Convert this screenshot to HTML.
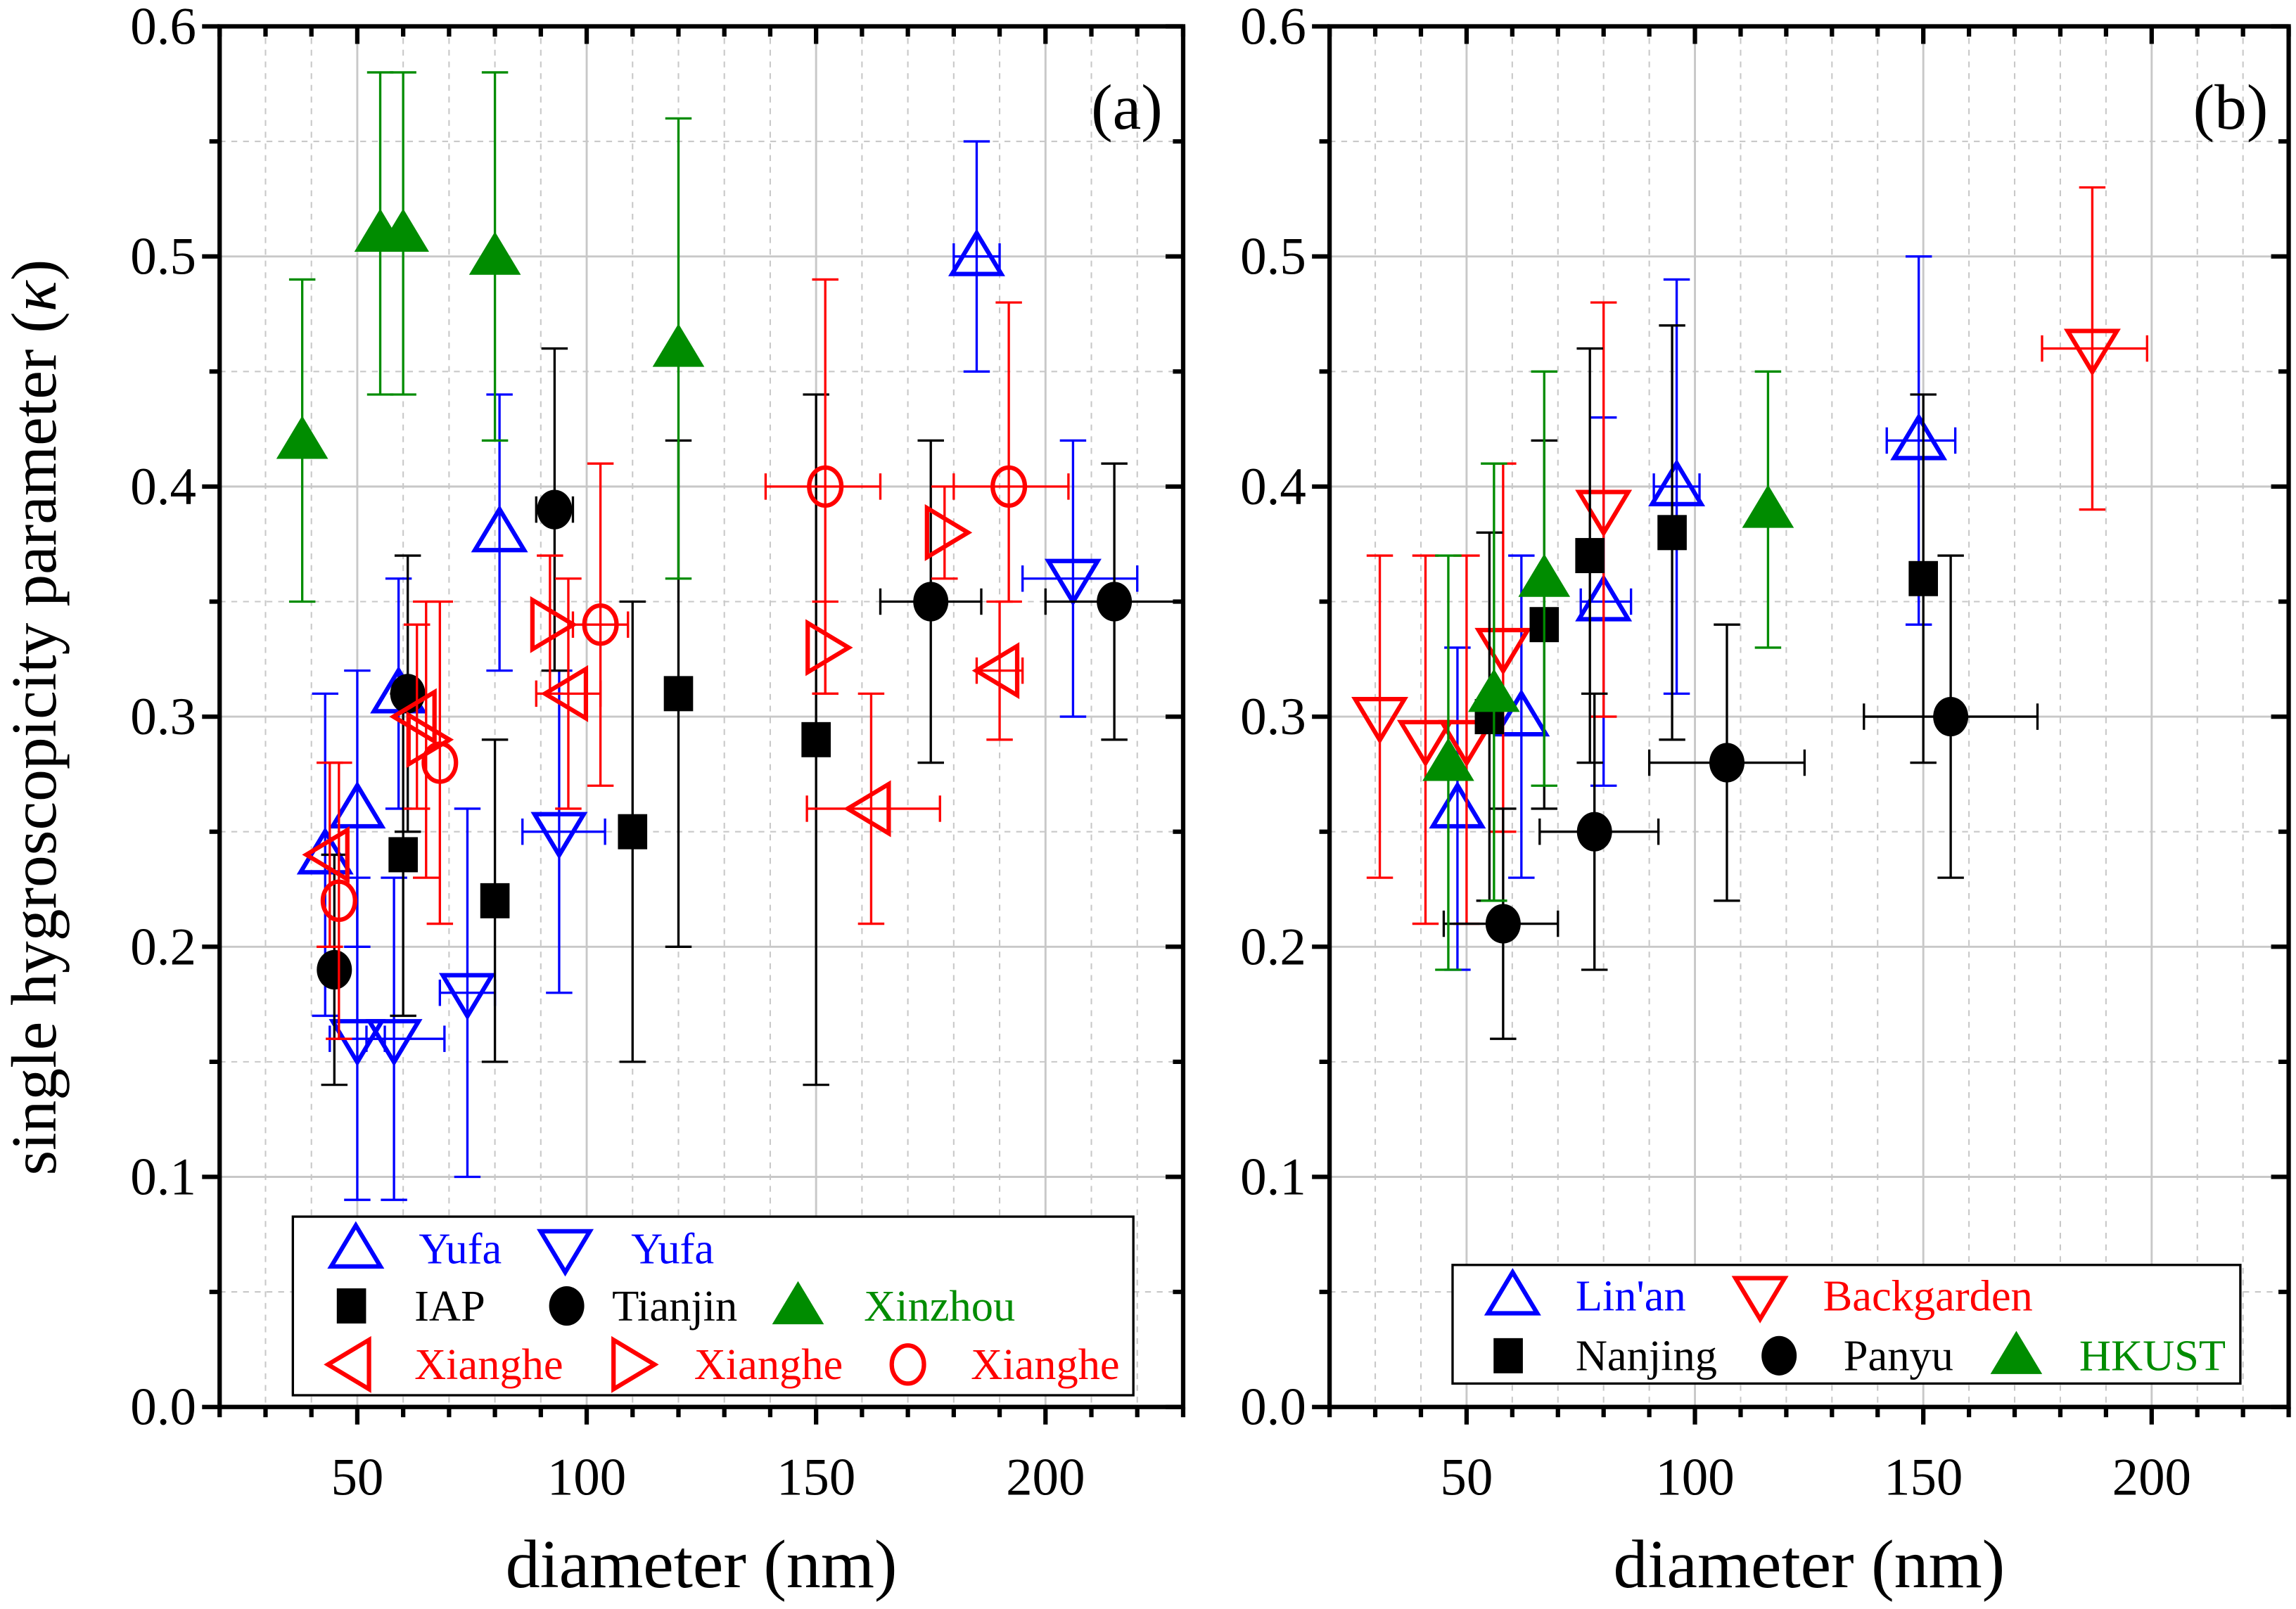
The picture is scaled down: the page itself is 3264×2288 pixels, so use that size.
<!DOCTYPE html>
<html><head><meta charset="utf-8"><style>
html,body{margin:0;padding:0;background:#fff;}
svg{display:block;font-family:"Liberation Serif",serif;}
</style></head><body>
<svg id="chart" width="3264" height="2288" viewBox="0 0 1568 1099" preserveAspectRatio="none" xmlns="http://www.w3.org/2000/svg"></svg>
<script>
// ---- data (x nm, kappa, ylo, yhi, xlo, xhi) ----
const yufaUp = [[43,0.24,0.17,0.31],[50,0.26,0.20,0.32],[59,0.31,0.26,0.36],[81,0.38,0.32,0.44],[185,0.50,0.45,0.55,180,190]];
const yufaDown = [[50,0.16,0.09,0.23,44,56],[58,0.16,0.09,0.23,52,69],[74,0.18,0.10,0.26,68,80],[94,0.25,0.18,0.32,86,104],[206,0.36,0.30,0.42,195,220]];
const iap = [[60,0.24,0.17,0.31],[80,0.22,0.15,0.29],[110,0.25,0.15,0.35],[120,0.31,0.20,0.42],[150,0.29,0.14,0.44]];
const tianjin = [[45,0.19,0.14,0.24],[61,0.31,0.25,0.37],[93,0.39,0.32,0.46,89,97],[175,0.35,0.28,0.42,164,186],[215,0.35,0.29,0.41,200,230]];
const xinzhou = [[38,0.42,0.35,0.49],[55,0.51,0.44,0.58],[60,0.51,0.44,0.58],[80,0.50,0.42,0.58],[120,0.46,0.36,0.56]];
const xhLeft = [[44,0.24,0.20,0.28],[63,0.30,0.26,0.34],[96,0.31,0.26,0.36,89,103],[162,0.26,0.21,0.31,148,177],[190,0.32,0.29,0.35,185,195]];
const xhRight = [[65,0.29,0.23,0.35],[92,0.34,0.31,0.37],[152,0.33,0.31,0.35],[178,0.38,0.36,0.40]];
const xhCircle = [[46,0.22,0.16,0.28],[68,0.28,0.21,0.35],[103,0.34,0.27,0.41,97,109],[152,0.40,0.31,0.49,139,164],[192,0.40,0.35,0.48,180,205]];
const linan = [[48,0.26,0.19,0.33],[62,0.30,0.23,0.37],[80,0.35,0.27,0.43,75,86],[96,0.40,0.31,0.49,91,101],[149,0.42,0.34,0.50,142,157]];
const backgarden = [[31,0.30,0.23,0.37],[41,0.29,0.21,0.37],[50,0.29,0.21,0.37],[58,0.33,0.25,0.41],[80,0.39,0.30,0.48],[187,0.46,0.39,0.53,176,199]];
const nanjing = [[55,0.30,0.22,0.38],[67,0.34,0.26,0.42],[77,0.37,0.28,0.46],[95,0.38,0.29,0.47],[150,0.36,0.28,0.44]];
const panyu = [[58,0.21,0.16,0.26,45,70],[78,0.25,0.19,0.31,66,92],[107,0.28,0.22,0.34,90,124],[156,0.30,0.23,0.37,137,175]];
const hkust = [[46,0.28,0.19,0.37],[56,0.31,0.22,0.41],[67,0.36,0.27,0.45],[116,0.39,0.33,0.45]];
const xTicks = [50,100,150,200];
const yTicks = [0,0.1,0.2,0.3,0.4,0.5,0.6];

const NS="http://www.w3.org/2000/svg";
const svg=document.getElementById('chart');
function el(tag,attrs,parent){const e=document.createElementNS(NS,tag);for(const k in attrs)e.setAttribute(k,attrs[k]);(parent||svg).appendChild(e);return e;}

const Y0=961,Y1=18;
function makePanel(L,R,label,series,legend,name){
  const g=el('g',{});
  
  
  const xs=v=>L+(v-20)/(230-20)*(R-L);
  const ys=v=>Y0+(v-0)/(0.6)*(Y1-Y0);
  for(let v=30;v<=220;v+=10){const x=xs(v);const major=v%50===0;
    el('line',{x1:x,x2:x,y1:Y1,y2:Y0,stroke:'#c8c8c8','stroke-width':major?1.4:1,'stroke-dasharray':major?'':'4,4'},g);}
  for(let v=0.05;v<0.6;v+=0.05){const y=ys(v);const major=Math.round(v*100)%10===0;
    el('line',{x1:L,x2:R,y1:y,y2:y,stroke:'#c8c8c8','stroke-width':major?1.4:1,'stroke-dasharray':major?'':'4,4'},g);}
  for(let v=20;v<=230;v+=10){const x=xs(v);const major=v%50===0;
    el('line',{x1:x,x2:x,y1:Y0,y2:Y0+(major?12:7),stroke:'#000','stroke-width':3},g);
    el('line',{x1:x,x2:x,y1:Y1,y2:Y1+(major?12:7),stroke:'#000','stroke-width':3},g);}
  for(let i=0;i<=12;i++){const v=i*0.05;const y=ys(v);const major=i%2===0;
    el('line',{x1:L-(major?12:7),x2:L,y1:y,y2:y,stroke:'#000','stroke-width':3},g);
    el('line',{x1:R-(major?12:7),x2:R,y1:y,y2:y,stroke:'#000','stroke-width':3},g);}
  xTicks.forEach(v=>{const t=el('text',{x:xs(v),y:1021,'font-size':36,'text-anchor':'middle'},g);t.textContent=v;
    });
  yTicks.forEach(v=>{const t=el('text',{x:L-16,y:ys(v)+12,'font-size':36,'text-anchor':'end'},g);t.textContent=v.toFixed(1);
    });
  series.forEach(s=>{
    const sg=el('g',{},g);
    
    
    s.data.forEach(d=>{
      const x=xs(d[0]),y=ys(d[1]),c=s.color,cap=9;
      el('line',{x1:x,x2:x,y1:ys(d[2]),y2:ys(d[3]),stroke:c,'stroke-width':1.6},sg);
      el('line',{x1:x-cap,x2:x+cap,y1:ys(d[2]),y2:ys(d[2]),stroke:c,'stroke-width':1.6},sg);
      el('line',{x1:x-cap,x2:x+cap,y1:ys(d[3]),y2:ys(d[3]),stroke:c,'stroke-width':1.6},sg);
      if(d.length>4){
        el('line',{x1:xs(d[4]),x2:xs(d[5]),y1:y,y2:y,stroke:c,'stroke-width':1.6},sg);
        el('line',{x1:xs(d[4]),x2:xs(d[4]),y1:y-cap,y2:y+cap,stroke:c,'stroke-width':1.6},sg);
        el('line',{x1:xs(d[5]),x2:xs(d[5]),y1:y-cap,y2:y+cap,stroke:c,'stroke-width':1.6},sg);
      }
      const m=marker(s.shape,x,y,c,sg);
      
      
    });
  });
  el('rect',{x:L,y:Y1,width:R-L,height:Y0-Y1,fill:'none',stroke:'#000','stroke-width':3},g);
  const pl=el('text',{x:R-14,y:88,'font-size':44,'text-anchor':'end'},g);pl.textContent=label;
  
  const xt=el('text',{x:(L+R)/2,y:1084,'font-size':47,'text-anchor':'middle'},g);xt.textContent='diameter (nm)';
  
  const lg=el('g',{},g);
  
  
  el('rect',{x:legend.x,y:legend.y,width:legend.w,height:legend.h,fill:'#fff',stroke:'#000','stroke-width':1.6},lg);
  legend.items.forEach(it=>{
    const m=marker(it.shape,it.mx,it.my,it.color,lg);
    
    const t=el('text',{x:it.tx,y:it.my+10,'font-size':30,fill:it.color},lg);t.textContent=it.text;
    
  });
}
function marker(shape,x,y,c,p){
  const r=16;
  if(shape==='up')return el('polygon',{points:`${x},${y-r} ${x+r*1.05},${y+r*0.75} ${x-r*1.05},${y+r*0.75}`,fill:'none',stroke:c,'stroke-width':3},p);
  if(shape==='upf')return el('polygon',{points:`${x},${y-r} ${x+r*1.05},${y+r*0.75} ${x-r*1.05},${y+r*0.75}`,fill:c,stroke:c,'stroke-width':1},p);
  if(shape==='down')return el('polygon',{points:`${x},${y+r} ${x+r*1.05},${y-r*0.75} ${x-r*1.05},${y-r*0.75}`,fill:'none',stroke:c,'stroke-width':3},p);
  if(shape==='left')return el('polygon',{points:`${x-r},${y} ${x+r*0.75},${y-r*1.05} ${x+r*0.75},${y+r*1.05}`,fill:'none',stroke:c,'stroke-width':3},p);
  if(shape==='right')return el('polygon',{points:`${x+r},${y} ${x-r*0.75},${y-r*1.05} ${x-r*0.75},${y+r*1.05}`,fill:'none',stroke:c,'stroke-width':3},p);
  if(shape==='circ')return el('ellipse',{cx:x,cy:y,rx:11,ry:13,fill:'none',stroke:c,'stroke-width':3},p);
  if(shape==='circf')return el('ellipse',{cx:x,cy:y,rx:12,ry:13.5,fill:c},p);
  return el('rect',{x:x-10,y:y-12,width:20,height:24,fill:c},p);
}
const B='#0000ff',R='#ff0000',K='#000',G='#008c00';
makePanel(150,808,'(a)',[
  {name:'yufa-up',data:yufaUp,shape:'up',color:B},
  {name:'yufa-down',data:yufaDown,shape:'down',color:B},
  {name:'iap',data:iap,shape:'sq',color:K},
  {name:'tianjin',data:tianjin,shape:'circf',color:K},
  {name:'xinzhou',data:xinzhou,shape:'upf',color:G},
  {name:'xianghe-left',data:xhLeft,shape:'left',color:R},
  {name:'xianghe-right',data:xhRight,shape:'right',color:R},
  {name:'xianghe-circle',data:xhCircle,shape:'circ',color:R}
],{x:200,y:831,w:574,h:122,items:[
  {shape:'up',color:B,mx:243,my:853,tx:286,text:'Yufa'},
  {shape:'down',color:B,mx:386,my:853,tx:431,text:'Yufa'},
  {shape:'sq',color:K,mx:240,my:892,tx:283,text:'IAP'},
  {shape:'circf',color:K,mx:387,my:892,tx:418,text:'Tianjin'},
  {shape:'upf',color:G,mx:545,my:892,tx:590,text:'Xinzhou'},
  {shape:'left',color:R,mx:240,my:932,tx:283,text:'Xianghe'},
  {shape:'right',color:R,mx:431,my:932,tx:474,text:'Xianghe'},
  {shape:'circ',color:R,mx:620,my:932,tx:663,text:'Xianghe'}
]},'panel-a');
makePanel(908,1563,'(b)',[
  {name:'linan',data:linan,shape:'up',color:B},
  {name:'backgarden',data:backgarden,shape:'down',color:R},
  {name:'nanjing',data:nanjing,shape:'sq',color:K},
  {name:'panyu',data:panyu,shape:'circf',color:K},
  {name:'hkust',data:hkust,shape:'upf',color:G}
],{x:992,y:864,w:538,h:81,items:[
  {shape:'up',color:B,mx:1033,my:885,tx:1076,text:"Lin'an"},
  {shape:'down',color:R,mx:1202,my:885,tx:1245,text:'Backgarden'},
  {shape:'sq',color:K,mx:1030,my:926,tx:1076,text:'Nanjing'},
  {shape:'circf',color:K,mx:1215,my:926,tx:1259,text:'Panyu'},
  {shape:'upf',color:G,mx:1377,my:926,tx:1420,text:'HKUST'}
]},'panel-b');
const yt=el('text',{x:0,y:0,'font-size':44,'text-anchor':'middle',transform:'translate(38,490) rotate(-90)'});


yt.innerHTML='single hygroscopicity parameter (<tspan font-style="italic">κ</tspan>)';
</script>
</body></html>
